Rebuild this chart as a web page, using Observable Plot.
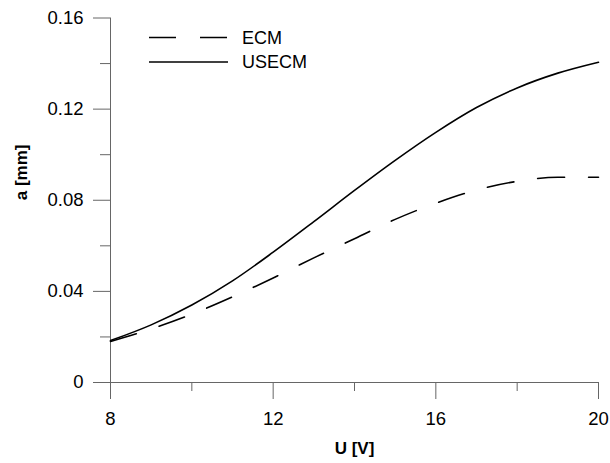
<!DOCTYPE html>
<html>
<head>
<meta charset="utf-8">
<script src="https://cdn.jsdelivr.net/npm/d3@7"></script>
<script src="https://cdn.jsdelivr.net/npm/@observablehq/plot@0.6"></script>
<style>
  html, body { margin: 0; padding: 0; background: #fff; }
  #wrap { position: relative; width: 610px; height: 463px; font-family: "Liberation Sans", Arial, sans-serif; }
  #legend { position: absolute; left: 0; top: 0; }
</style>
</head>
<body>
<div id="wrap"></div>
<script>
// Data
const U = [8, 9, 10, 11, 12, 13, 14, 15, 16, 17, 18, 19, 20];
const ECM = [0.0180, 0.0235, 0.0300, 0.0376, 0.0459, 0.0547, 0.0631, 0.0716, 0.0787, 0.0845, 0.0883, 0.0901, 0.0901];
const USECM = [0.0184, 0.0253, 0.0340, 0.0446, 0.0572, 0.0706, 0.0843, 0.0975, 0.1098, 0.1207, 0.1293, 0.1358, 0.1406];
const seriesNames = ["ECM", "USECM"];
const xMajor = [8, 12, 16, 20];
const xMinor = [10, 14, 18];
const yMajor = [0, 0.04, 0.08, 0.12, 0.16];
const yMinor = [0.02, 0.06, 0.10, 0.14];
const xLabel = "U [V]";
const yLabel = "a [mm]";

const ecmData = U.map((u, i) => ({U: u, a: ECM[i]}));
const usecmData = U.map((u, i) => ({U: u, a: USECM[i]}));

const axisColor = "#666";
const fmtY = d => d === 0 ? "0" : d.toFixed(2);

const chart = Plot.plot({
  width: 610,
  height: 463,
  marginLeft: 110,
  marginRight: 12,
  marginTop: 17.5,
  marginBottom: 81,
  style: {fontFamily: "'Liberation Sans', Arial, sans-serif", fontSize: "18px", background: "#fff", color: "#000"},
  x: {domain: [8, 20]},
  y: {domain: [0, 0.16]},
  marks: [
    Plot.axisX(xMajor, {tickSize: 17, tickPadding: 12, stroke: axisColor, strokeOpacity: 1, fill: "#000", fontSize: 18.5, label: null}),
    Plot.axisX(xMinor, {tickSize: 9, text: null, stroke: axisColor, strokeOpacity: 1, label: null}),
    Plot.axisY(yMajor, {tickSize: 17, tickPadding: 10, stroke: axisColor, strokeOpacity: 1, fill: "#000", fontSize: 18.5, tickFormat: fmtY, label: null}),
    Plot.axisY(yMinor, {tickSize: 10, text: null, stroke: axisColor, strokeOpacity: 1, label: null}),
    Plot.ruleY([0], {stroke: axisColor, strokeWidth: 1}),
    Plot.ruleX([8], {stroke: axisColor, strokeWidth: 1}),
    Plot.line(ecmData, {x: "U", y: "a", curve: "monotone-x", stroke: "#000", strokeWidth: 1.6, strokeDasharray: "27,24"}),
    Plot.line(usecmData, {x: "U", y: "a", curve: "monotone-x", stroke: "#000", strokeWidth: 1.6}),
    Plot.text([xLabel], {frameAnchor: "bottom", dy: 71, text: d => d, fontWeight: "bold", fontSize: 17, fill: "#000"}),
    Plot.text([yLabel], {frameAnchor: "left", dx: -89, rotate: -90, text: d => d, fontWeight: "bold", fontSize: 17, fill: "#000"})
  ]
});

const wrap = document.getElementById("wrap");
wrap.appendChild(chart);

// Legend overlay
const ns = "http://www.w3.org/2000/svg";
const leg = document.createElementNS(ns, "svg");
leg.setAttribute("id", "legend");
leg.setAttribute("width", 610);
leg.setAttribute("height", 100);
const styles = [{dash: "27,24"}, {dash: null}];
seriesNames.forEach((name, i) => {
  const y = 37.5 + i * 24.5;
  const ln = document.createElementNS(ns, "line");
  ln.setAttribute("x1", 149); ln.setAttribute("x2", 228);
  ln.setAttribute("y1", y); ln.setAttribute("y2", y);
  ln.setAttribute("stroke", "#000"); ln.setAttribute("stroke-width", 1.6);
  if (styles[i].dash) ln.setAttribute("stroke-dasharray", styles[i].dash);
  leg.appendChild(ln);
  const t = document.createElementNS(ns, "text");
  t.setAttribute("x", 242); t.setAttribute("y", y);
  t.setAttribute("dy", "0.36em");
  t.setAttribute("font-size", 18);
  t.setAttribute("font-family", "'Liberation Sans', Arial, sans-serif");
  t.textContent = name;
  leg.appendChild(t);
});
wrap.appendChild(leg);
</script>
</body>
</html>
